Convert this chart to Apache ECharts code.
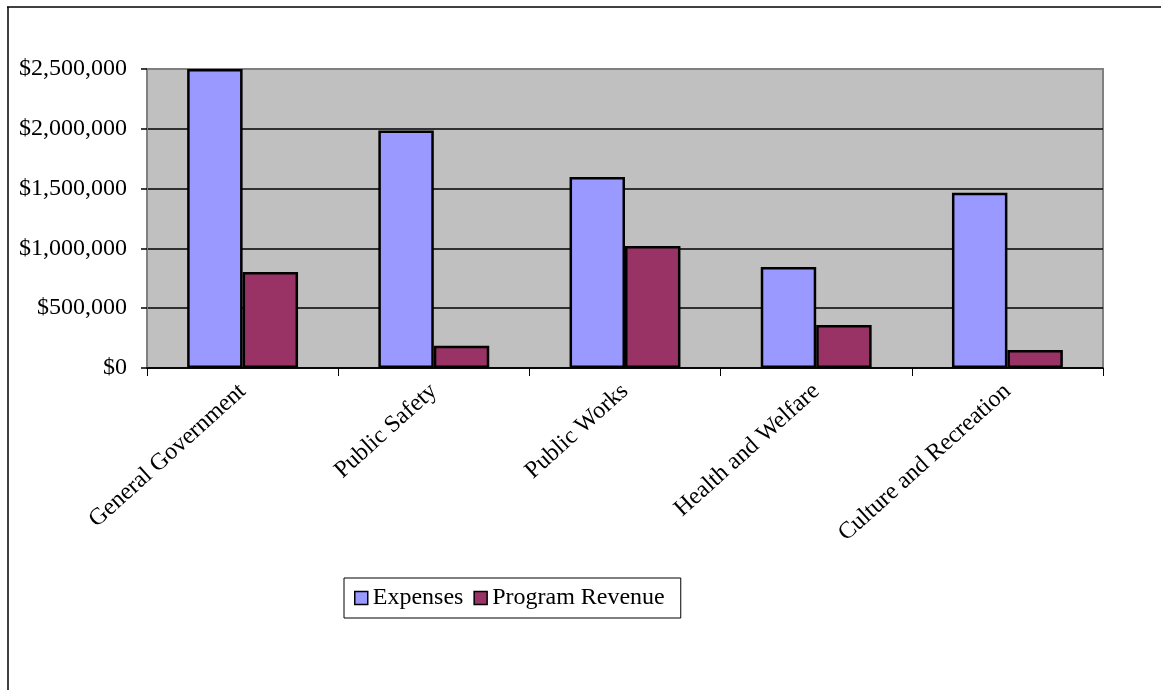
<!DOCTYPE html>
<html>
<head>
<meta charset="utf-8">
<script src="https://cdn.jsdelivr.net/npm/echarts@6/dist/echarts.min.js"></script>
<style>
  html, body { margin: 0; padding: 0; background: #fff; }
  #chart { width: 1161px; height: 690px; }
</style>
</head>
<body>
<div id="chart"></div>
<script>
const categories = ["General Government", "Public Safety", "Public Works", "Health and Welfare", "Culture and Recreation"];
const expenses = [2500000, 1985000, 1597000, 844000, 1466000];
const programRevenue = [802000, 186000, 1020000, 360000, 150000];
const yTicks = [0, 500000, 1000000, 1500000, 2000000, 2500000];

const serif = "Liberation Serif";

function money(v) {
    return "$" + v.toString().replace(/\B(?=(\d{3})+(?!\d))/g, ",");
}

const chart = echarts.init(document.getElementById("chart"));

const option = {
    animation: false,
    textStyle: { fontFamily: serif, color: "#000" },
    graphic: [
        // outer frame, only top and left edges are visible
        { type: "line", shape: { x1: 7, y1: 7, x2: 1161, y2: 7 }, style: { stroke: "#000", lineWidth: 1.5 } },
        { type: "line", shape: { x1: 8, y1: 7, x2: 8, y2: 690 }, style: { stroke: "#000", lineWidth: 1.5 } },
    ],
    grid: {
        left: 147,
        right: 58,
        top: 69,
        bottom: 322,
        show: true,
        backgroundColor: "#C0C0C0",
        borderColor: "#808080",
        borderWidth: 2,
    },
    legend: {
        left: 344,
        top: 578,
        orient: "horizontal",
        data: ["Expenses", "Program Revenue"],
        borderColor: "#000",
        borderWidth: 1,
        borderRadius: 0,
        padding: [8, 16, 8, 10],
        itemGap: 10,
        itemWidth: 13,
        itemHeight: 13,
        icon: "rect",
        itemStyle: { borderColor: "#000", borderWidth: 1.5 },
        textStyle: { fontFamily: serif, fontSize: 24, color: "#000", padding: [0, 0, 0, 0] },
    },
    xAxis: {
        type: "category",
        data: categories,
        axisLine: { lineStyle: { color: "#000", width: 1.5 } },
        axisTick: { show: true, length: 8, lineStyle: { color: "#000" } },
        axisLabel: {
            rotate: 42,
            margin: 20,
            interval: 0,
            fontFamily: serif,
            fontSize: 24,
            color: "#000",
        },
    },
    yAxis: {
        type: "value",
        min: yTicks[0],
        max: yTicks[yTicks.length - 1],
        interval: yTicks[1] - yTicks[0],
        axisLine: { show: true, lineStyle: { color: "#808080", width: 2 } },
        axisTick: { show: true, length: 6, lineStyle: { color: "#000", width: 1.5 } },
        splitLine: { show: true, showMaxLine: false, lineStyle: { color: "#000", width: 1.5 } },
        axisLabel: {
            margin: 20,
            fontFamily: serif,
            fontSize: 24,
            color: "#000",
            formatter: money,
        },
    },
    series: [
        {
            name: "Expenses",
            type: "bar",
            data: expenses,
            barGap: "0%",
            barCategoryGap: "42%",
            itemStyle: { color: "#9999FF", borderColor: "#000", borderWidth: 2.5 },
        },
        {
            name: "Program Revenue",
            type: "bar",
            data: programRevenue,
            itemStyle: { color: "#993366", borderColor: "#000", borderWidth: 2.5 },
        },
    ],
};

chart.setOption(option);
</script>
</body>
</html>
